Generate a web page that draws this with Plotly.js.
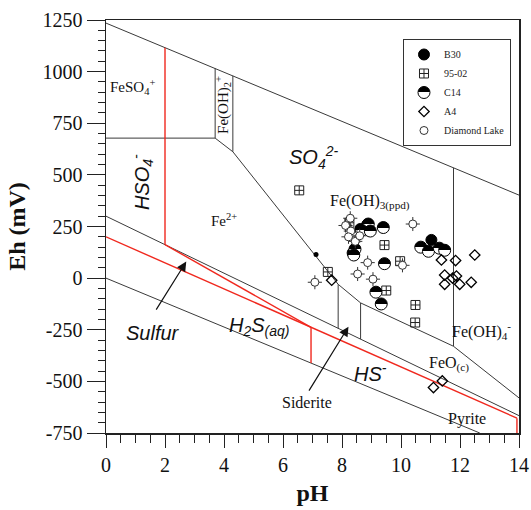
<!DOCTYPE html>
<html>
<head>
<meta charset="utf-8">
<script src="https://cdn.plot.ly/plotly-3.0.1.min.js"></script>
<style>html,body{margin:0;padding:0;background:#fff;}#chart{width:531px;height:510px;}</style>
</head>
<body>
<div id="chart"></div>
<script>
// ---------- Data: sample points (pH, Eh in mV) ----------
const b30PH = [8.85, 8.62, 8.36, 11.03];
const b30Eh = [258, 238, 122, 185];
const p9502PH = [6.55, 9.44, 9.5, 10.49, 10.48, 7.52, 9.97, 8.25];
const p9502Eh = [425, 160, -60, -130, -215, 30, 82, 268];
const c14PH = [8.89, 9.4, 8.66, 8.96, 8.44, 8.4, 9.44, 9.15, 9.33, 10.67, 10.93, 11.3, 11.48];
const c14Eh = [262, 245, 232, 228, 140, 112, 70, -68, -125, 150, 130, 145, 135];
const a4PH = [7.65, 11.37, 11.85, 12.5, 11.48, 11.88, 11.48, 11.75, 11.99, 12.38, 11.1, 11.4];
const a4Eh = [-10, 88, 85, 112, 15, 10, -30, 0, -30, -20, -530, -498];
const dlPH = [8.28, 8.12, 8.3, 8.22, 8.45, 8.6, 8.87, 8.53, 9.05, 7.08, 10.4, 10.05];
const dlEh = [290, 255, 228, 200, 178, 205, 75, 20, -5, -20, 262, 62];
const dotPH = [7.12];
const dotEh = [115];

// ---------- Data: stability-field boundaries ----------
const upperWaterPH = [0, 14],          upperWaterEh = [1235, 402];
const lowerWaterPH = [0, 12.67],       lowerWaterEh = [0, -750];
const pyriteTopPH = [0, 14],           pyriteTopEh = [300, -666];
const feso4BasePH = [0, 3.70],         feso4BaseEh = [678, 678];
const feoh2LeftPH = [3.70, 3.70],      feoh2LeftEh = [1016, 678];
const feoh2RightPH = [4.30, 4.30],     feoh2RightEh = [980, 612];
const feoh3BasePH = [3.70, 4.30, 7.87, 8.63, 11.78, 14];
const feoh3BaseEh = [678, 612, -30, -120, -330, -580];
const feoh4EdgePH = [11.78, 11.78],    feoh4EdgeEh = [534, -330];
const sideriteLPH = [7.87, 7.87],      sideriteLEh = [-30, -243];
const sideriteRPH = [8.63, 8.63],      sideriteREh = [-120, -295];

const redV2PH = [2, 2],                redV2Eh = [1116, 162];
const redSulfLoPH = [0, 13.93],        redSulfLoEh = [200, -678];
const redSulfHiPH = [2, 6.95],         redSulfHiEh = [162, -238];
const redV7PH = [6.95, 6.95],          redV7Eh = [-238, -411];
const redV14PH = [13.93, 13.93],       redV14Eh = [-678, -750];

const xTicks = [0, 2, 4, 6, 8, 10, 12, 14];
const yTicks = [-750, -500, -250, 0, 250, 500, 750, 1000, 1250];

// ---------- Build traces ----------
function joinSegs(segs) {
  const x = [], y = [];
  segs.forEach(function (s, i) {
    if (i > 0) { x.push(null); y.push(null); }
    s[0].forEach(function (v) { x.push(v); });
    s[1].forEach(function (v) { y.push(v); });
  });
  return {x: x, y: y};
}
const blackSegs = joinSegs([
  [upperWaterPH, upperWaterEh], [lowerWaterPH, lowerWaterEh], [pyriteTopPH, pyriteTopEh],
  [feso4BasePH, feso4BaseEh], [feoh2LeftPH, feoh2LeftEh], [feoh2RightPH, feoh2RightEh],
  [feoh3BasePH, feoh3BaseEh], [feoh4EdgePH, feoh4EdgeEh], [sideriteLPH, sideriteLEh],
  [sideriteRPH, sideriteREh]
]);
const redSegs = joinSegs([
  [redV2PH, redV2Eh], [redSulfLoPH, redSulfLoEh], [redSulfHiPH, redSulfHiEh],
  [redV7PH, redV7Eh], [redV14PH, redV14Eh]
]);

const serif = 'Liberation Serif, Times New Roman, serif';
const sans = 'Liberation Sans, Arial, sans-serif';

const data = [
  {x: blackSegs.x, y: blackSegs.y, mode: 'lines', type: 'scatter', showlegend: false,
   hoverinfo: 'skip', line: {color: '#3a3a3a', width: 1}},
  {x: redSegs.x, y: redSegs.y, mode: 'lines', type: 'scatter', showlegend: false,
   hoverinfo: 'skip', line: {color: '#f0281e', width: 1.4}},
  {x: dotPH, y: dotEh, mode: 'markers', type: 'scatter', showlegend: false,
   marker: {symbol: 'circle', size: 5, color: '#000'}},
  {name: 'B30', x: b30PH, y: b30Eh, mode: 'markers', type: 'scatter',
   marker: {symbol: 'circle', size: 11, color: '#000', line: {color: '#000', width: 1}}},
  {name: '95-02', x: p9502PH, y: p9502Eh, mode: 'markers', type: 'scatter',
   marker: {symbol: 'square-cross-open', size: 9, color: '#222', line: {color: '#222', width: 1}}},
  {name: 'C14', x: c14PH, y: c14Eh, mode: 'markers', type: 'scatter',
   marker: {symbol: 'circle', size: 12, color: '#000',
            gradient: {type: 'vertical', color: '#ffffff'},
            line: {color: '#000', width: 1}}},
  {name: 'A4', x: a4PH, y: a4Eh, mode: 'markers', type: 'scatter',
   marker: {symbol: 'diamond-open', size: 8, color: '#000', line: {color: '#000', width: 1.3}}},
  {name: 'Diamond Lake', x: dlPH, y: dlEh, mode: 'markers', type: 'scatter',
   error_x: {type: 'constant', value: 0.24, width: 0, thickness: 1, color: '#333'},
   error_y: {type: 'constant', value: 34, width: 0, thickness: 1, color: '#333'},
   marker: {symbol: 'circle', size: 8, color: '#fff', line: {color: '#333', width: 1}}}
];

function lab(text, x, y, opts) {
  const o = opts || {};
  return Object.assign({text: text, x: x, y: y, xref: 'x', yref: 'y', showarrow: false,
    font: {family: o.italic ? sans : serif, size: o.size || 16, color: '#111',
           style: o.italic ? 'italic' : 'normal'}}, o.extra || {});
}

const annotations = [
  lab('FeSO<sub>4</sub><sup>+</sup>', 0.9, 925, {size: 15}),
  lab('Fe(OH)<sub>2</sub><sup>+</sup>', 3.96, 838, {size: 15, extra: {textangle: -90}}),
  lab('HSO<sub>4</sub><sup>-</sup>', 1.22, 465, {italic: true, size: 20, extra: {textangle: -90}}),
  lab('SO<sub>4</sub><sup>2-</sup>', 7.05, 585, {italic: true, size: 20}),
  lab('Fe<sup>2+</sup>', 4.0, 283, {size: 15}),
  lab('Fe(OH)<sub>3(ppd)</sub>', 8.95, 368, {size: 16}),
  lab('Fe(OH)<sub>4</sub><sup>-</sup>', 12.74, -255, {size: 16}),
  lab('FeO<sub>(c)</sub>', 11.62, -415, {size: 16}),
  lab('Pyrite', 12.23, -682, {size: 16}),
  lab('HS<sup>-</sup>', 8.95, -455, {italic: true, size: 20}),
  lab('H<sub>2</sub>S<sub>(aq)</sub>', 5.2, -232, {italic: true, size: 20}),
  lab('Sulfur', 1.6, -268, {italic: true, size: 20}),
  lab('Siderite', 6.81, -602, {size: 16}),
  {text: '', x: 2.72, y: 80, ax: 1.67, ay: -160, xref: 'x', yref: 'y', axref: 'x', ayref: 'y',
   showarrow: true, arrowhead: 2, arrowsize: 1.6, arrowwidth: 1.2, arrowcolor: '#111'},
  {text: '', x: 8.22, y: -235, ax: 6.85, ay: -552, xref: 'x', yref: 'y', axref: 'x', ayref: 'y',
   showarrow: true, arrowhead: 2, arrowsize: 1.6, arrowwidth: 1.2, arrowcolor: '#111'}
];

const layout = {
  width: 531, height: 510,
  margin: {l: 106, r: 12, t: 20, b: 77, pad: 0},
  paper_bgcolor: '#fff', plot_bgcolor: '#fff',
  font: {family: serif, color: '#111'},
  showlegend: true,
  legend: {x: 0.9806, y: 0.954, xanchor: 'right', yanchor: 'top',
           bgcolor: '#fff', bordercolor: '#333', borderwidth: 1,
           font: {family: serif, size: 10, color: '#222'}, tracegroupgap: 0},
  xaxis: {range: [0, 14], tickvals: xTicks, ticktext: xTicks.map(String),
          ticks: 'outside', ticklen: 13, tickwidth: 1, tickcolor: '#222',
          minor: {dtick: 0.5, ticks: 'outside', ticklen: 8, tickwidth: 1, tickcolor: '#222', showgrid: false},
          showline: true, linecolor: '#222', linewidth: 1.5, mirror: true,
          showgrid: false, zeroline: false,
          tickfont: {family: serif, size: 20, color: '#111'},
          title: {text: '<b>pH</b>', font: {family: serif, size: 24, color: '#111'}, standoff: 9}},
  yaxis: {range: [-750, 1250], tickvals: yTicks, ticktext: yTicks.map(String),
          ticks: 'outside', ticklen: 18, tickwidth: 1, tickcolor: '#222',
          minor: {dtick: 50, ticks: 'outside', ticklen: 7, tickwidth: 1, tickcolor: '#222', showgrid: false},
          showline: true, linecolor: '#222', linewidth: 1.5, mirror: true,
          showgrid: false, zeroline: false,
          tickfont: {family: serif, size: 20, color: '#111'},
          title: {text: '<b>Eh (mV)</b>', font: {family: serif, size: 24, color: '#111'}, standoff: 10}},
  annotations: annotations
};

function hardSplitGradients() {
  const ns = 'http://www.w3.org/2000/svg';
  document.querySelectorAll('linearGradient').forEach(function (g) {
    const stops = g.querySelectorAll('stop');
    if (stops.length !== 2) return;
    [[stops[0], '50%'], [stops[1], '50%']].forEach(function (p) {
      const s = document.createElementNS(ns, 'stop');
      s.setAttribute('offset', p[1]);
      s.setAttribute('stop-color', p[0].getAttribute('stop-color'));
      const op = p[0].getAttribute('stop-opacity');
      if (op !== null) s.setAttribute('stop-opacity', op);
      g.insertBefore(s, stops[1]);
    });
  });
}

Plotly.newPlot('chart', data, layout, {staticPlot: true, displayModeBar: false})
  .then(hardSplitGradients);
</script>
</body>
</html>
